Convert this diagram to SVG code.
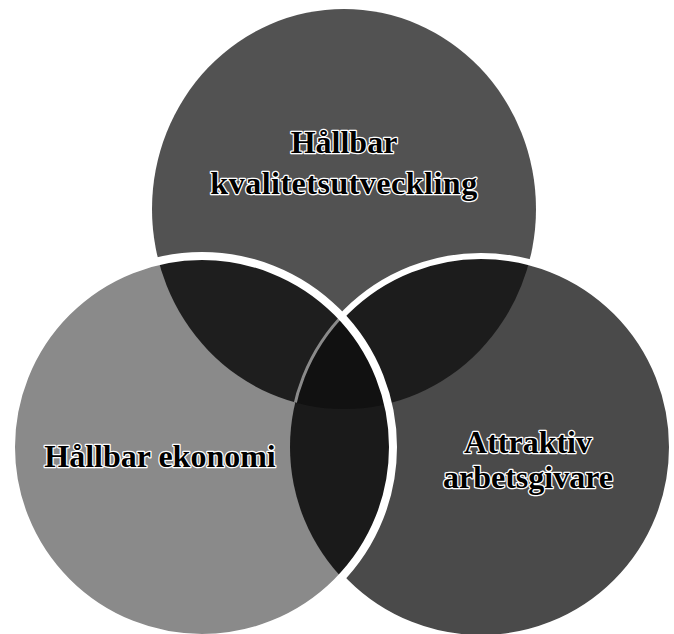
<svg xmlns="http://www.w3.org/2000/svg" width="674" height="634" viewBox="0 0 674 634">
<style>
.lbl{font-family:"Liberation Serif","Times New Roman",serif;font-weight:bold;font-size:32px;fill:#000;stroke:#fff;stroke-width:2.5px;paint-order:stroke;stroke-linejoin:round;text-anchor:middle}
</style>
<defs>
<ellipse id="cTop" cx="344" cy="209" rx="192" ry="200"/>
<circle id="cLeft" cx="202" cy="447" r="191"/>
<circle id="cRight" cx="481" cy="447" r="191"/>
<clipPath id="clipTop"><use href="#cTop"/></clipPath>
<clipPath id="clipLeft"><use href="#cLeft"/></clipPath>
<clipPath id="clipRight"><use href="#cRight"/></clipPath>
<mask id="notLeft" maskUnits="userSpaceOnUse" x="0" y="0" width="674" height="634">
<rect x="0" y="0" width="674" height="634" fill="#fff"/>
<use href="#cLeft" fill="#000"/>
</mask>
</defs>
<rect width="674" height="634" fill="#fff"/>
<g id="node-top">
<use href="#cTop" fill="#525252"/>
<text class="lbl" x="344" y="153">Hållbar</text>
<text class="lbl" x="344" y="194" letter-spacing="0.5">kvalitetsutveckling</text>
</g>
<g id="node-right">
<use href="#cRight" fill="#4a4a4a"/>
<text class="lbl" x="528" y="453">Attraktiv</text>
<text class="lbl" x="528" y="488">arbetsgivare</text>
</g>
<g id="node-left">
<use href="#cLeft" fill="#8a8a8a"/>
<text class="lbl" x="160" y="467">Hållbar ekonomi</text>
</g>
<g id="overlaps">
<g clip-path="url(#clipTop)"><use href="#cRight" fill="#1c1c1c"/></g>
<g clip-path="url(#clipTop)"><use href="#cLeft" fill="#1e1e1e"/></g>
<g clip-path="url(#clipRight)"><use href="#cLeft" fill="#1a1a1a"/></g>
<g clip-path="url(#clipTop)"><g clip-path="url(#clipRight)"><use href="#cLeft" fill="#111"/></g></g>
</g>
<g id="outlines" fill="none">
<use href="#cRight" stroke="#fff" stroke-width="6" mask="url(#notLeft)"/>
<g clip-path="url(#clipTop)"><g clip-path="url(#clipLeft)"><use href="#cRight" stroke="#8a8a8a" stroke-width="3"/></g></g>
<use href="#cLeft" stroke="#fff" stroke-width="8"/>
</g>
</svg>
